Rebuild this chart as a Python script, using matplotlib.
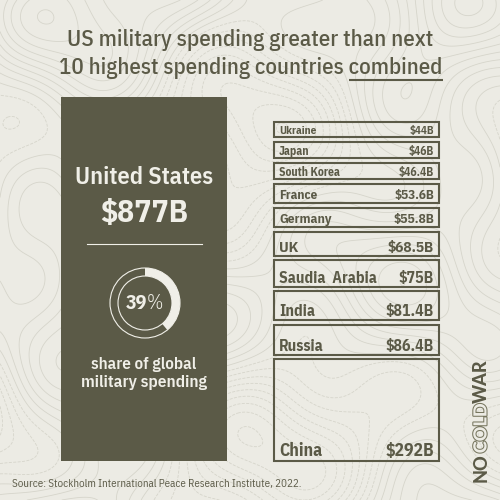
import matplotlib
matplotlib.use("Agg")
import matplotlib.pyplot as plt  # noqa: E402
import numpy as np  # noqa: E402
from matplotlib import font_manager as fm  # noqa: E402
from matplotlib import patches  # noqa: E402
from matplotlib import patheffects as pe  # noqa: E402

# data
countries = ["Ukraine", "Japan", "South Korea", "France", "Germany", "UK",
             "Saudia  Arabia", "India", "Russia", "China"]
spending = [44, 46, 46.4, 53.6, 55.8, 68.5, 75, 81.4, 86.4, 292]   # $B
value_labels = ["$44B", "$46B", "$46.4B", "$53.6B", "$55.8B", "$68.5B",
                "$75B", "$81.4B", "$86.4B", "$292B"]
us_name = "United States"
us_label = "$877B"
us_share = 39   # % of global military spending

title1 = "US military spending greater than next"
title2 = "10 highest spending countries "
title2_ul = "combined"
source = "Source: Stockholm International Peace Research Institute, 2022."
logo_parts = ["NO", "COLD", "WAR"]

BG = "#ecebe4"
DARK = "#5b5a47"
LIGHT = "#f0efe8"
TOPO = "#d6d5cb"


def pick(cands):
    have = {f.name for f in fm.fontManager.ttflist}
    for c in cands:
        if c in have:
            return c
    return "DejaVu Sans"


COND = pick(["IBM Plex Sans Condensed", "Barlow Semi Condensed",
             "Asap Condensed", "Roboto Condensed"])
HEAD = pick(["IBM Plex Sans Condensed", "Barlow", "Roboto"])
LOGO = pick(["Lato", "DejaVu Sans"])

fig = plt.figure(figsize=(5, 5), dpi=100, facecolor=BG)
ax = fig.add_axes([0, 0, 1, 1])
ax.set_xlim(0, 500)
ax.set_ylim(500, 0)
ax.axis("off")
r = fig.canvas.get_renderer()


def fit(t, width):
    # scale the font so the rendered text spans `width` pixels
    w = t.get_window_extent(r).width
    t.set_fontsize(t.get_fontsize() * width / w)
    return t


# faint topographic texture
gx, gy = np.meshgrid(np.linspace(0, 500, 300), np.linspace(0, 500, 300))
field = (np.sin(gx / 55) + np.cos(gy / 47) + 0.6 * np.sin((gx + gy) / 70)
         + 0.5 * np.cos((gx - 1.4 * gy) / 38) + 0.3 * np.sin(gx / 23 + gy / 31))
ax.contour(gx, gy, field, levels=20, colors=TOPO, linewidths=0.6, zorder=0)

# title
fit(ax.text(250.5, 46, title1, ha="center", va="baseline", fontsize=14,
            family=HEAD, weight=500, color=DARK), 365)
t2 = fit(ax.text(251, 74, title2 + title2_ul, ha="center", va="baseline",
                 fontsize=14, family=HEAD, weight=500, color=DARK), 383)
probe = ax.text(0, 0, title2_ul, fontsize=t2.get_fontsize(), family=HEAD,
                weight=500, alpha=0)
bb = t2.get_window_extent(r)
wc = probe.get_window_extent(r).width
ax.plot([bb.x1 - wc, bb.x1], [80, 80], color=DARK, lw=1.5,
        solid_capstyle="butt")

# left US panel
ax.add_patch(patches.Rectangle((61, 97), 166, 364, fc=DARK, ec="none",
                               zorder=2))
fit(ax.text(144, 184, us_name, ha="center", va="baseline", fontsize=16.5,
            family=COND, weight=600, color=LIGHT, zorder=3), 138)
fit(ax.text(144, 222, us_label, ha="center", va="baseline", fontsize=20.5,
            family=COND, weight=700, color=LIGHT, zorder=3), 88)
ax.plot([87, 202], [244, 244], color=LIGHT, lw=0.8, zorder=3)

cx, cy = 145, 303
ax.add_patch(patches.Circle((cx, cy), 35, fill=False, ec=LIGHT, lw=0.8,
                            zorder=3))
ax.add_patch(patches.Circle((cx, cy), 27, fill=False, ec=LIGHT, lw=0.8,
                            zorder=3))
ax.add_patch(patches.Wedge((cx, cy), 35, -90, -90 + 3.6 * us_share, width=8,
                           fc=LIGHT, ec="none", zorder=3))
pct = fit(ax.text(146.7, 309, f"{us_share}", ha="right", va="baseline",
                  fontsize=12.5, family=COND, weight=700, color=LIGHT,
                  zorder=4), 21.5)
ax.text(146.7, 309, "%", ha="left", va="baseline", fontsize=pct.get_fontsize(),
        family=COND, weight=300, color=LIGHT, zorder=4)
fit(ax.text(144, 369, "share of global", ha="center", va="baseline",
            fontsize=12.3, family=COND, weight=600, color=LIGHT, zorder=3), 106)
fit(ax.text(144, 387, "military spending", ha="center", va="baseline",
            fontsize=12.3, family=COND, weight=600, color=LIGHT, zorder=3), 126)

# source
fit(ax.text(12, 487, source, ha="left", va="baseline", fontsize=8.6,
            family=COND, weight=400, color=DARK), 287)

# logo, rotated, built bottom-up
inv = ax.transData.inverted()
logo = []
for k, part in enumerate(logo_parts):
    hollow = k == 1
    t = ax.text(481, 0, part, rotation=90, ha="center", va="bottom",
                fontsize=12, family=LOGO, weight=900,
                color=BG if hollow else DARK)
    if hollow:
        t.set_path_effects([pe.withStroke(linewidth=1.5,
                                          foreground="#77765f")])
    logo.append(t)
span = sum(t.get_window_extent(r).height for t in logo)
y0 = 482
for t in logo:
    t.set_fontsize(t.get_fontsize() * 122 / span)
    t.set_y(y0)
    e = t.get_window_extent(r)
    y0 = inv.transform((e.x0, e.y1))[1]

# right column: stacked boxes, height proportional to spending
gap = 14
tops = np.concatenate([[0], np.cumsum(np.array(spending) + gap)[:-1]])
total = sum(spending) + gap * (len(spending) - 1)
bx = fig.add_axes([274 / 500, 1 - 461 / 500, 165 / 500, 339 / 500])
bx.set_xlim(0, 1)
bx.set_ylim(total, 0)
bx.axis("off")
bx.bar(0.5, spending, bottom=tops, width=1.0, fill=False,
       edgecolor=DARK, linewidth=1.5, clip_on=False)
px_per_unit = 339 / total
for name, lab, top, v in zip(countries, value_labels, tops, spending):
    h = v * px_per_unit
    fs = np.interp(h, [15, 19, 25, 30, 102], [7.9, 9.6, 11.3, 11.3, 12.7])
    off = 3.5 if h < 60 else 5
    bx.annotate(name, (0, top + v), xytext=(5, off),
                textcoords="offset pixels", ha="left", va="baseline",
                fontsize=fs, family=COND, weight=700, color=DARK)
    bx.annotate(lab, (1, top + v), xytext=(-5, off),
                textcoords="offset pixels", ha="right", va="baseline",
                fontsize=fs, family=COND, weight=700, color=DARK)

fig.savefig("out.png", dpi=100, facecolor=BG)
